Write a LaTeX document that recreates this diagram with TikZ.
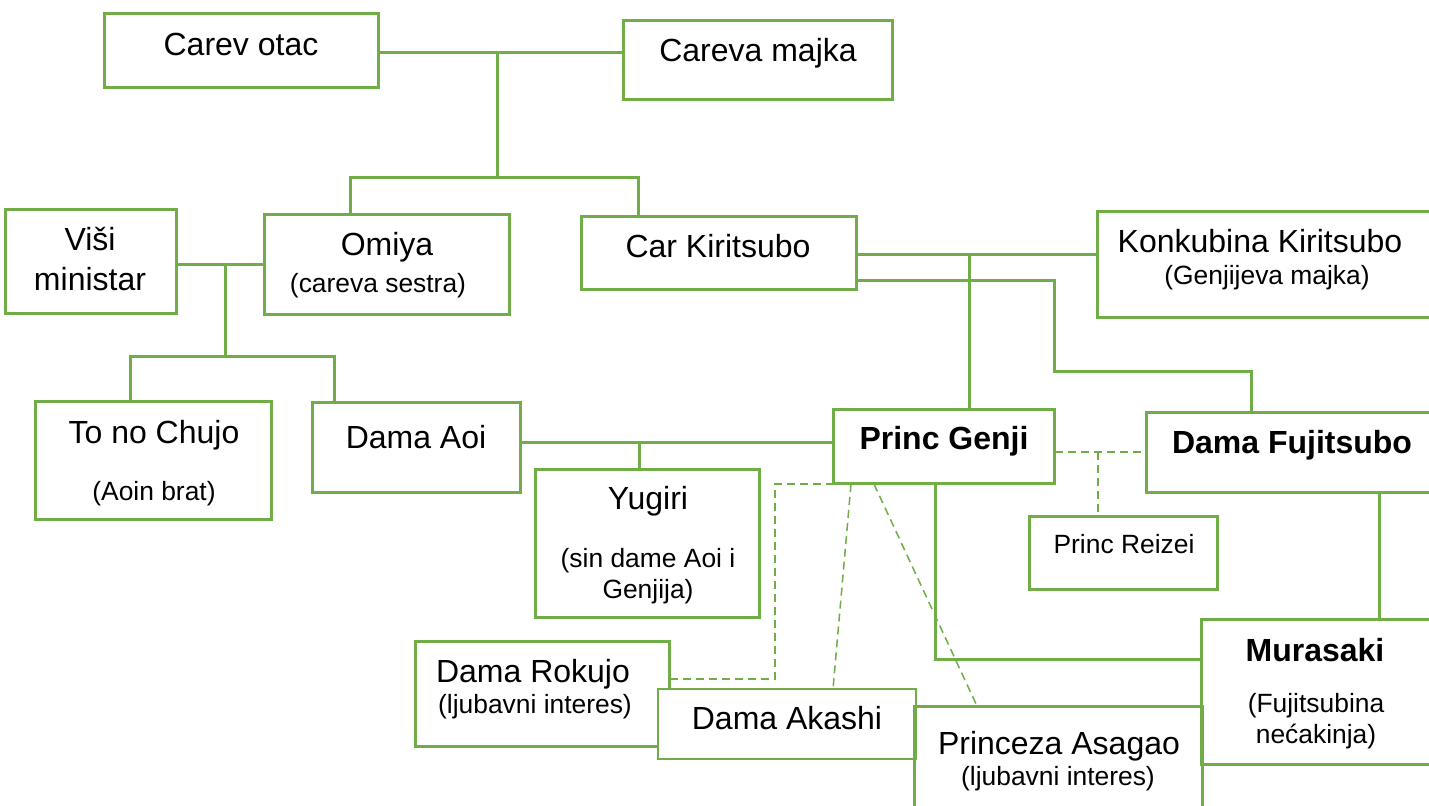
\documentclass[tikz,border=0pt]{standalone}
\usepackage{fontspec}
\setmainfont{Liberation Sans}
\usetikzlibrary{fit}
\definecolor{grn}{RGB}{112,173,71}
\tikzset{
 box/.style={draw=grn, line width=1pt, fill=white, inner sep=0pt},
 conn/.style={draw=grn, line width=1.5pt},
 dconn/.style={draw=grn, line width=0.75pt, dash pattern=on 4pt off 2.5pt},
 lbl/.style={anchor=base, inner sep=0pt, font=\fontsize{16}{19}\selectfont},
 sub/.style={anchor=base, inner sep=0pt, font=\fontsize{13.2}{16}\selectfont},
 blbl/.style={anchor=base, inner sep=0pt, font=\fontsize{16}{19}\selectfont\bfseries},
}
\begin{document}
\begin{tikzpicture}[x=0.5pt,y=-0.5pt]
\useasboundingbox (0,0) rectangle (1429,805);
\fill[white] (0,0) rectangle (1429,805);

% boxes
\path
 node[box, fit={(105,14)(378,87)}] (carev) {}
 node[box, fit={(624,21)(892,99)}] (majka) {}
 node[box, fit={(6,210)(176,313)}] (visi) {}
 node[box, fit={(265,215)(509,314)}] (omiya) {}
 node[box, fit={(582,217)(856,289)}] (car) {}
 node[box, fit={(1098,212)(1434,317)}] (konk) {}
 node[box, fit={(36,402)(271,519)}] (tono) {}
 node[box, fit={(313,403)(520,492)}] (aoi) {}
 node[box, fit={(834,410)(1054,483)}] (genji) {}
 node[box, fit={(1147,413)(1434,492)}] (fuji) {}
 node[box, fit={(536,470)(759,617)}] (yugiri) {}
 node[box, fit={(1030,517)(1217,589)}] (reizei) {}
 node[box, fit={(1202,620)(1431,764)}] (murasaki) {}
 node[box, fit={(416,642)(669,746)}] (rokujo) {}
 node[box, fit={(659,690)(915,758)}] (akashi) {}
 node[box, fit={(915,707)(1202,812)}] (asagao) {};

% connectors
\coordinate (pj) at (497,52);
\coordinate (pk) at (497,177);
\coordinate (ok) at (350,177);
\coordinate (ck) at (638,177);
\draw[conn] (carev.east |- pj) -- (majka.west |- pj);
\draw[conn] (pj) -- (pk);
\draw[conn] (omiya.north -| ok) -- (ok) -- (ck) -- (car.north -| ck);

\coordinate (vj) at (225,264);
\coordinate (vk) at (225,356);
\coordinate (tk) at (130,356);
\coordinate (ak) at (334,356);
\draw[conn] (visi.east |- vj) -- (omiya.west |- vj);
\draw[conn] (vj) -- (vk);
\draw[conn] (tono.north -| tk) -- (tk) -- (ak) -- (aoi.north -| ak);

\coordinate (kj) at (969,254);
\draw[conn] (car.east |- kj) -- (konk.west |- kj);
\draw[conn] (kj) -- (genji.north -| kj);
\coordinate (f1) at (1054,280);
\coordinate (f2) at (1054,371);
\coordinate (f3) at (1251,371);
\draw[conn] (car.east |- f1) -- (f1) -- (f2) -- (f3) -- (fuji.north -| f3);

\coordinate (yj) at (639,442);
\draw[conn] (aoi.east |- yj) -- (genji.west |- yj);
\draw[conn] (yj) -- (yugiri.north -| yj);

\coordinate (rj) at (1098,452);
\draw[dconn] (genji.east |- rj) -- (fuji.west |- rj);
\draw[dconn] (rj) -- (reizei.north -| rj);

\coordinate (gm) at (935,659);
\draw[conn] (genji.south -| gm) -- (gm) -- (murasaki.west |- gm);
\coordinate (fm) at (1379,600);
\draw[conn] (fuji.south -| fm) -- (murasaki.north -| fm);

\coordinate (r1) at (775,679);
\draw[dconn] (rokujo.east |- r1) -- (r1) -- (r1 |- genji.south) -- (genji.south west);
\coordinate (ga) at (851,483);
\coordinate (aa) at (833,690);
\draw[dconn] (genji.south -| ga) -- (akashi.north -| aa);
\coordinate (gs) at (874,483);
\coordinate (as) at (977,707);
\draw[dconn] (genji.south -| gs) -- (asagao.north -| as);

% redraw box borders on top
\foreach \n in {carev,majka,visi,omiya,car,konk,tono,aoi,genji,fuji,yugiri,reizei,murasaki}{
  \draw[draw=grn, line width=1pt] (\n.north west) rectangle (\n.south east);
}
\draw[draw=grn, line width=1pt] (rokujo.north west) rectangle (rokujo.south east);
\filldraw[fill=white, draw=grn, line width=1pt] (akashi.north west) rectangle (akashi.south east);
\draw[draw=grn, line width=1pt] (asagao.north west) rectangle (asagao.south east);

% labels
\node[lbl] (carevT) at (241,55) {Carev otac};
\node[lbl] (majkaT) at (758,61) {Careva majka};
\node[lbl] (visiT1) at (90,250) {Viši};
\node[lbl] (visiT2) at (90,290) {ministar};
\node[lbl] (omiyaT1) at (387,255) {Omiya};
\node[sub] (omiyaT2) at (378,292) {(careva sestra)};
\node[lbl] (carT) at (718,257) {Car Kiritsubo};
\node[lbl] (konkT1) at (1260,252) {Konkubina Kiritsubo};
\node[sub] (konkT2) at (1267,284) {(Genjijeva majka)};
\node[lbl] (tonoT1) at (154,443) {To no Chujo};
\node[sub] (tonoT2) at (154,500) {(Aoin brat)};
\node[lbl] (aoiT) at (416,448) {Dama Aoi};
\node[blbl] (genjiT) at (944,449) {Princ Genji};
\node[blbl] (fujiT) at (1292,453) {Dama Fujitsubo};
\node[lbl] (yugiriT1) at (648,509) {Yugiri};
\node[sub] (yugiriT2) at (648,567) {(sin dame Aoi i};
\node[sub] (yugiriT3) at (648,598) {Genjija)};
\node[sub] (reizeiT) at (1124,553) {Princ Reizei};
\node[blbl] (murasakiT1) at (1315,661) {Murasaki};
\node[sub] (murasakiT2) at (1316,712) {(Fujitsubina};
\node[sub] (murasakiT3) at (1316,743) {nećakinja)};
\node[lbl] (rokujoT1) at (533,682) {Dama Rokujo};
\node[sub] (rokujoT2) at (535,713) {(ljubavni interes)};
\node[lbl] (akashiT) at (787,729) {Dama Akashi};
\node[lbl] (asagaoT1) at (1059,754) {Princeza Asagao};
\node[sub] (asagaoT2) at (1058,785) {(ljubavni interes)};
\end{tikzpicture}
\end{document}
